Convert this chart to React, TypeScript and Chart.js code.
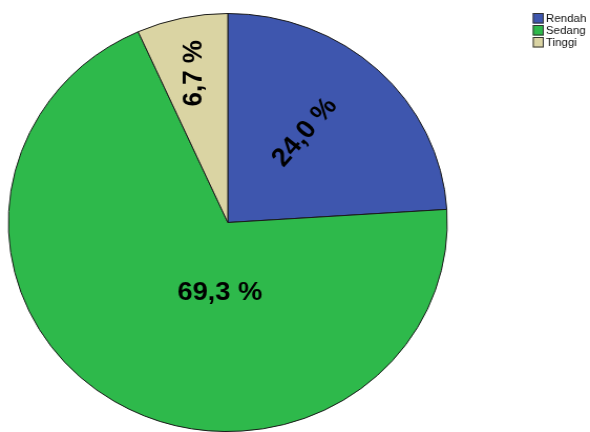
import React, { useEffect, useRef } from "react";
import { Chart, registerables } from "chart.js";

Chart.register(...registerables);

const categories = ["Rendah", "Sedang", "Tinggi"];
const percentages = [24.0, 69.3, 6.7];
const sliceColors = ["#3E56AE", "#2EB94B", "#DAD4A3"];
const valueLabels = ["24,0 %", "69,3 %", "6,7 %"];
// label placement relative to each slice: radius fraction, angle offset (deg), text rotation (deg)
const labelRadiusFrac = [0.556, 0.34, 0.73];
const labelAngleOffset = [-4, -25, 0];
const labelRotation = [-50, 0, -90];

const CANVAS_W = 562;
const CANVAS_H = 432;

const labelPlugin = {
  id: "sliceLabels",
  afterDraw(chart: any) {
    const ctx = chart.ctx;
    const meta = chart.getDatasetMeta(0);
    ctx.save();
    meta.data.forEach((arc: any, i: number) => {
      const p = arc.getProps(["x", "y", "startAngle", "endAngle", "outerRadius"], true);
      const mid = (p.startAngle + p.endAngle) / 2 + (labelAngleOffset[i] * Math.PI) / 180;
      const r = p.outerRadius * labelRadiusFrac[i];
      const x = p.x + Math.cos(mid) * r;
      const y = p.y + Math.sin(mid) * r;
      ctx.save();
      ctx.translate(x, y);
      ctx.rotate((labelRotation[i] * Math.PI) / 180);
      ctx.font = "bold 26px 'Liberation Sans', Arial, sans-serif";
      ctx.fillStyle = "#000000";
      ctx.textAlign = "center";
      ctx.textBaseline = "middle";
      ctx.fillText(valueLabels[i], 0, 0);
      ctx.restore();
    });
    // legend
    const lx = 507.5;
    const ly = 13;
    const box = 10.5;
    const step = 12;
    ctx.font = "11px 'Liberation Sans', Arial, sans-serif";
    ctx.textAlign = "left";
    ctx.textBaseline = "middle";
    categories.forEach((c, i) => {
      const y = ly + i * step;
      ctx.fillStyle = sliceColors[i];
      ctx.fillRect(lx, y, box, box);
      ctx.strokeStyle = "#333333";
      ctx.lineWidth = 1;
      ctx.strokeRect(lx + 0.5, y + 0.5, box - 1, box - 1);
      ctx.fillStyle = "#111111";
      ctx.fillText(c, lx + box + 2, y + box / 2 + 0.5);
    });
    ctx.restore();
  },
};

export default function App() {
  const ref = useRef<HTMLCanvasElement | null>(null);
  useEffect(() => {
    document.body.style.margin = "0";
    const canvas = ref.current!;
    const chart = new Chart(canvas, {
      type: "pie",
      data: {
        labels: categories,
        datasets: [
          {
            data: percentages,
            backgroundColor: sliceColors,
            borderColor: "#1a1a1a",
            borderWidth: 1,
          },
        ],
      },
      options: {
        responsive: false,
        animation: false,
        devicePixelRatio: 1,
        layout: { padding: { left: 7, right: 135, top: 13, bottom: 0 } },
        plugins: {
          legend: { display: false },
          tooltip: { enabled: false },
        },
      } as any,
      plugins: [labelPlugin],
    });
    return () => chart.destroy();
  }, []);
  return (
    <canvas
      ref={ref}
      width={CANVAS_W}
      height={CANVAS_H}
      style={{ width: "590px", height: "432px", display: "block" }}
    />
  );
}
